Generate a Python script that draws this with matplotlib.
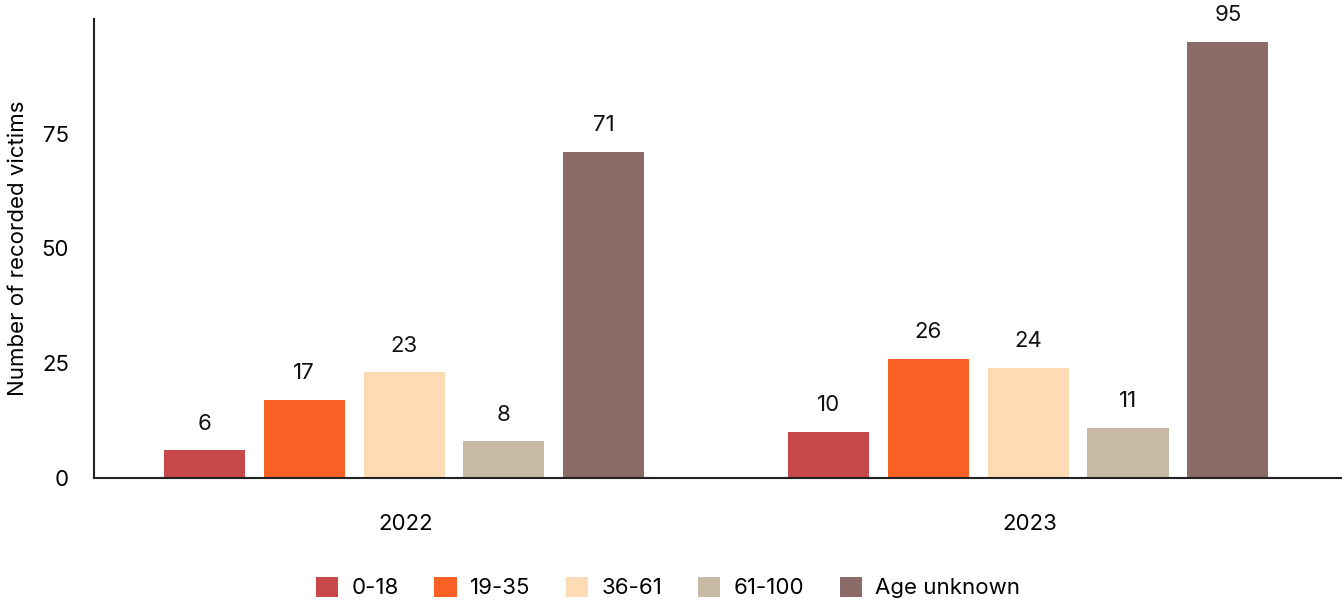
import matplotlib.pyplot as plt
import numpy as np

plt.rcParams['font.family'] = ['Inter', 'DejaVu Sans']

# ---------- Data ----------
years = ['2022', '2023']
age_groups = ['0-18', '19-35', '36-61', '61-100', 'Age unknown']
victims = {
    '0-18': [6, 10],
    '19-35': [17, 26],
    '36-61': [23, 24],
    '61-100': [8, 11],
    'Age unknown': [71, 95],
}
colors = ['#C9484A', '#F96124', '#FDDCB5', '#C8B9A5', '#8A6B68']

# ---------- Plot ----------
fig = plt.figure(figsize=(13.42, 6.04), dpi=100)
ax = fig.add_axes([0.070, 0.2086, 0.93, 0.76])

x = np.arange(len(years))
step = 0.16
width = 0.13
for i, (grp, col) in enumerate(zip(age_groups, colors)):
    pos = x + (i - 2) * step - 0.003
    vals = victims[grp]
    ax.bar(pos, vals, width=width, color=col, label=grp, zorder=2)
    for px, v in zip(pos, vals):
        ax.annotate(str(v), xy=(px, v), xytext=(0, 12), textcoords='offset points',
                    ha='center', va='bottom', fontsize=16, color='#111111')

ax.set_xlim(-0.5, 1.5)
ax.set_ylim(0, 100)
ax.set_xticks(x)
ax.set_xticklabels(years, fontsize=16)
ax.set_yticks([0, 25, 50, 75])
ax.tick_params(axis='y', length=0, pad=18, labelsize=16)
ax.tick_params(axis='x', length=0, pad=26, labelsize=16)
ax.set_ylabel('Number of recorded victims', fontsize=16, labelpad=10)

for s in ['top', 'right']:
    ax.spines[s].set_visible(False)
ax.spines['left'].set_color('#222222')
ax.spines['bottom'].set_color('#222222')
ax.spines['left'].set_linewidth(1.5)
ax.spines['bottom'].set_linewidth(1.5)

ax.legend(loc='center', bbox_to_anchor=(0.46, -0.239), ncol=5, frameon=False,
          fontsize=16, handlelength=1.0, handleheight=1.0, columnspacing=1.6,
          handletextpad=0.6)

plt.savefig('out.png', dpi=100)
